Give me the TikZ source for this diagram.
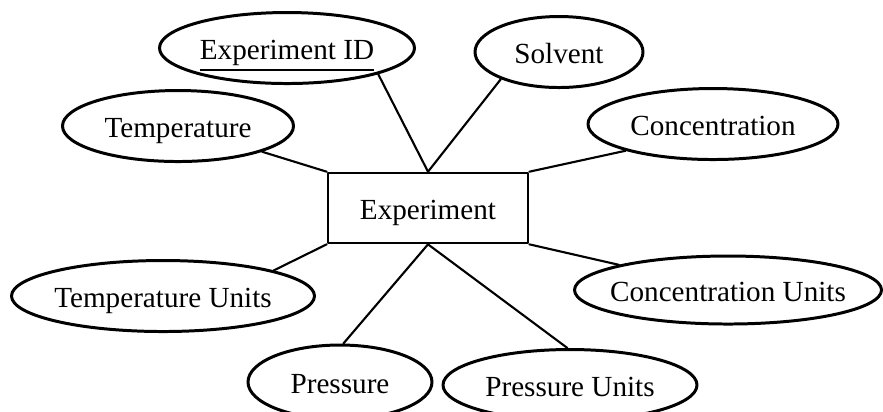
\documentclass[tikz,border=0pt]{standalone}
\usepackage{fontspec}
\setmainfont{Liberation Serif}
\usetikzlibrary{shapes.geometric}

\begin{document}
\begin{tikzpicture}[
		x=0.1mm, y=-0.1mm,
		every node/.style={font=\fontsize{8.3}{10}\selectfont},
		attrib/.style={ellipse, draw, line width=0.85pt, inner xsep=-3mm, inner ysep=0pt, text height=2.2mm, text depth=0pt, minimum height=7.1mm},
		entity/.style={rectangle, draw, line width=0.75pt, text height=2.2mm, text depth=0pt, minimum width=20mm, minimum height=7mm},
		link/.style={line width=0.6pt},
		line cap=round,
		line join=round
		]
		
		\useasboundingbox (0,0) rectangle (883,411);
		
		% entity in the middle
		\node[entity] (exp) at (428,208) {Experiment};
		
		% attributes above
		\node[attrib, minimum width=25.5mm] (expid) at (287,48) {\underline{Experiment ID}};
		\node[attrib, minimum width=16.8mm] (solvent) at (559,52) {Solvent};
		\node[attrib, minimum width=23.1mm] (temp) at (178,126) {Temperature};
		\node[attrib, minimum width=25mm] (conc) at (713,124) {Concentration};
		
		% attributes below
		\node[attrib, minimum width=30.3mm] (tempunits) at (163,296) {Temperature Units};
		\node[attrib, minimum width=30.7mm, minimum height=6.8mm] (concunits) at (728,290) {Concentration Units};
		\node[attrib, minimum width=18.4mm, minimum height=7.4mm] (press) at (340,382) {Pressure};
		\node[attrib, minimum width=25.4mm] (pressunits) at (570,385) {Pressure Units};
		
		% links
		\draw[link] (exp.north) -- (expid.-16.5);
		\draw[link] (exp.north) -- (solvent.-155.4);
		\draw[link] (exp.north west) -- (temp.-17.8);
		\draw[link] (exp.north east) -- (conc.-163.5);
		\draw[link] (exp.south west) -- (tempunits.13.9);
		\draw[link] (exp.south east) -- (concunits.167.5);
		\draw[link] (exp.south) -- (press.85.4);
		\draw[link] (exp.south) -- (pressunits.94.6);
		
	\end{tikzpicture}
\end{document}
